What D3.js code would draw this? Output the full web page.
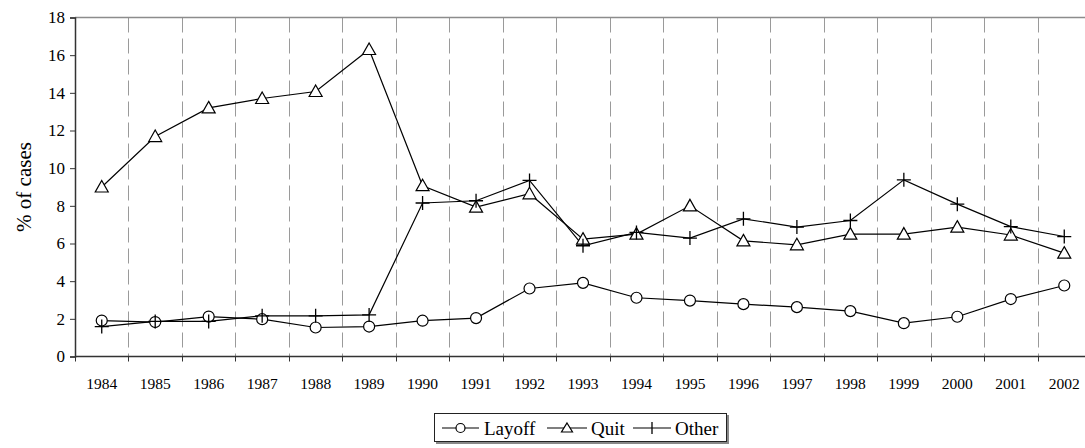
<!DOCTYPE html>
<html>
<head>
<meta charset="utf-8">
<script src="https://cdn.jsdelivr.net/npm/d3@7"></script>
<style>
  body { margin: 0; background: #fff; }
  svg { display: block; }
  svg text { font-family: "Liberation Serif", "Times New Roman", Times, serif; }
</style>
</head>
<body>
<div id="chart"></div>
<script>
const years = ['1984','1985','1986','1987','1988','1989','1990','1991','1992','1993','1994','1995','1996','1997','1998','1999','2000','2001','2002'];
const layoff = [1.91, 1.83, 2.12, 1.98, 1.54, 1.59, 1.9, 2.04, 3.61, 3.91, 3.12, 2.97, 2.78, 2.62, 2.41, 1.77, 2.11, 3.05, 3.77];
const quit = [9.0, 11.68, 13.2, 13.7, 14.07, 16.3, 9.07, 7.93, 8.64, 6.23, 6.5, 8.0, 6.14, 5.93, 6.5, 6.5, 6.87, 6.45, 5.49];
const other = [1.59, 1.86, 1.86, 2.16, 2.16, 2.21, 8.15, 8.27, 9.35, 5.88, 6.59, 6.29, 7.31, 6.87, 7.22, 9.38, 8.09, 6.9, 6.37];
const yTicks = [0, 2, 4, 6, 8, 10, 12, 14, 16, 18];

const width = 1085;
const height = 448;
const margin = {left: 75, top: 17.5, right: -6, bottom: 91.5};

const svg = d3.select('#chart')
    .append('svg')
    .attr('width', width)
    .attr('height', height);

const x = d3.scaleBand()
    .domain(years)
    .range([margin.left, width - margin.right]);

const y = d3.scaleLinear()
    .domain([0, 18])
    .range([height - margin.bottom, margin.top]);

// dashed vertical gridlines at category boundaries
svg.append('g')
    .selectAll('line')
    .data(years.slice(1))
    .enter()
    .append('line')
    .attr('x1', d => Math.round(x(d)) + 0.5)
    .attr('x2', d => Math.round(x(d)) + 0.5)
    .attr('y1', y(18))
    .attr('y2', y(0))
    .attr('stroke', '#9a9a9a')
    .attr('stroke-width', 1)
    .attr('stroke-dasharray', '15,6');

// top border
svg.append('line')
    .attr('x1', margin.left)
    .attr('x2', width)
    .attr('y1', y(18))
    .attr('y2', y(18))
    .attr('stroke', '#8c8c8c')
    .attr('stroke-width', 1.5);

// y axis
const yAxis = d3.axisLeft(y)
    .tickValues(yTicks)
    .tickSize(5)
    .tickPadding(5);

svg.append('g')
    .attr('transform', `translate(${margin.left},0)`)
    .call(yAxis)
    .call(g => g.attr('font-family', null))
    .call(g => g.select('.domain').attr('stroke', '#333').attr('stroke-width', 1.5))
    .call(g => g.selectAll('.tick line').attr('stroke', '#333'))
    .call(g => g.selectAll('text').attr('font-size', 17).attr('fill', '#000'));

// x axis: ticks at category boundaries
const xAxisG = svg.append('g')
    .attr('transform', `translate(0,${y(0)})`);

xAxisG.append('line')
    .attr('x1', margin.left)
    .attr('x2', width)
    .attr('stroke', '#333')
    .attr('stroke-width', 1.5);

xAxisG.selectAll('.xtick')
    .data(years.concat(['end']))
    .enter()
    .append('line')
    .attr('class', 'xtick')
    .attr('x1', (d, i) => Math.round(margin.left + i * x.bandwidth()) + 0.5)
    .attr('x2', (d, i) => Math.round(margin.left + i * x.bandwidth()) + 0.5)
    .attr('y1', 0)
    .attr('y2', 5)
    .attr('stroke', '#333');

xAxisG.selectAll('.xlabel')
    .data(years)
    .enter()
    .append('text')
    .attr('class', 'xlabel')
    .attr('x', d => x(d) + x.bandwidth() / 2)
    .attr('y', 32)
    .attr('text-anchor', 'middle')
    .attr('font-size', 15.5)
    .text(d => d);

// y axis title
svg.append('text')
    .attr('transform', `translate(31,${(y(0) + y(18)) / 2}) rotate(-90)`)
    .attr('text-anchor', 'middle')
    .attr('font-size', 21)
    .text('% of cases');

const cx = (d, i) => x(years[i]) + x.bandwidth() / 2;

const line = d3.line()
    .x((d, i) => cx(d, i))
    .y(d => y(d));

const series = [
    {name: 'Layoff', values: layoff, marker: 'circle'},
    {name: 'Quit', values: quit, marker: 'triangle'},
    {name: 'Other', values: other, marker: 'plus'}
];

function drawMarker(g, type, px, py) {
    if (type === 'circle') {
        g.append('circle')
            .attr('cx', px).attr('cy', py).attr('r', 5.5)
            .attr('fill', '#fff').attr('stroke', '#000').attr('stroke-width', 1.2);
    } else if (type === 'triangle') {
        g.append('path')
            .attr('d', `M${px},${py - 6.5}L${px + 6.5},${py + 5}L${px - 6.5},${py + 5}Z`)
            .attr('fill', '#fff').attr('stroke', '#000').attr('stroke-width', 1.2);
    } else {
        g.append('path')
            .attr('d', `M${px - 7},${py}H${px + 7}M${px},${py - 7}V${py + 7}`)
            .attr('fill', 'none').attr('stroke', '#000').attr('stroke-width', 1.3);
    }
}

series.forEach(s => {
    svg.append('path')
        .datum(s.values)
        .attr('d', line)
        .attr('fill', 'none')
        .attr('stroke', '#000')
        .attr('stroke-width', 1.2);
});

series.forEach(s => {
    const g = svg.append('g');
    s.values.forEach((v, i) => drawMarker(g, s.marker, cx(v, i), y(v)));
});

// legend
const legend = svg.append('g');
legend.append('rect')
    .attr('x', 436).attr('y', 415).attr('width', 293).attr('height', 29)
    .attr('fill', '#888');
legend.append('rect')
    .attr('x', 434.5).attr('y', 413.5).attr('width', 292).attr('height', 28)
    .attr('fill', '#fff').attr('stroke', '#222').attr('stroke-width', 1);

const legendItems = [
    {name: 'Layoff', marker: 'circle', x0: 442, x1: 479, tx: 484},
    {name: 'Quit', marker: 'triangle', x0: 547, x1: 587, tx: 591},
    {name: 'Other', marker: 'plus', x0: 633, x1: 671, tx: 675}
];
const ly = 428;
legendItems.forEach(it => {
    legend.append('line')
        .attr('x1', it.x0).attr('x2', it.x1)
        .attr('y1', ly).attr('y2', ly)
        .attr('stroke', '#000').attr('stroke-width', 1.2);
    const mx = (it.x0 + it.x1) / 2;
    if (it.marker === 'circle') {
        legend.append('circle').attr('cx', mx).attr('cy', ly).attr('r', 4.5)
            .attr('fill', '#fff').attr('stroke', '#000').attr('stroke-width', 1.2);
    } else if (it.marker === 'triangle') {
        legend.append('path')
            .attr('d', `M${mx},${ly - 5}L${mx + 5.5},${ly + 4}L${mx - 5.5},${ly + 4}Z`)
            .attr('fill', '#fff').attr('stroke', '#000').attr('stroke-width', 1.2);
    } else {
        legend.append('path')
            .attr('d', `M${mx},${ly - 6}V${ly + 6}`)
            .attr('stroke', '#000').attr('stroke-width', 1.3);
    }
    legend.append('text')
        .attr('x', it.tx).attr('y', ly + 6.5)
        .attr('font-size', 19)
        .text(it.name);
});
</script>
</body>
</html>
